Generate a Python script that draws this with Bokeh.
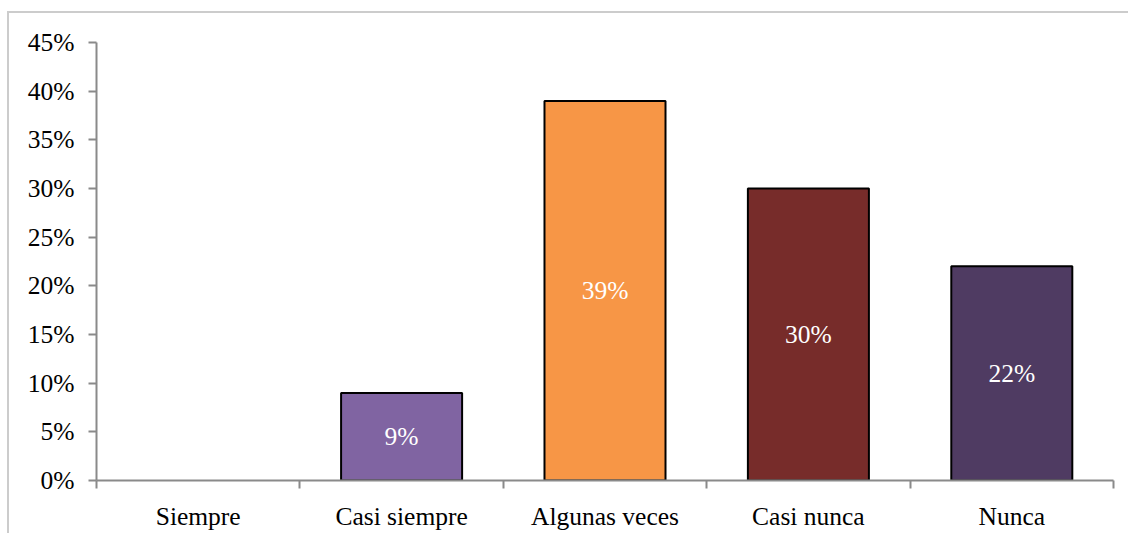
from bokeh.plotting import figure
from bokeh.models import ColumnDataSource, FixedTicker, Range1d
from bokeh.core.properties import value
from bokeh.embed import file_html
from bokeh.resources import INLINE

categories = ["Siempre", "Casi siempre", "Algunas veces", "Casi nunca", "Nunca"]
values = [0, 9, 39, 30, 22]
colors = ["#8064A2", "#8064A2", "#F79646", "#772C2A", "#4F3B62"]
labels = ["0%", "9%", "39%", "30%", "22%"]
y_ticks = [0, 5, 10, 15, 20, 25, 30, 35, 40, 45]

FONT = "Liberation Serif"
FS = "25.5px"

xs = [i + 0.5 for i in range(len(categories))]
keep = [i for i, v in enumerate(values) if v > 0]
src = ColumnDataSource(dict(
    x=[xs[i] for i in keep], top=[values[i] for i in keep],
    color=[colors[i] for i in keep], label=[labels[i] for i in keep],
    mid=[values[i] / 2 for i in keep],
))

p = figure(width=1121, height=522, output_backend="svg", toolbar_location=None,
           x_range=Range1d(0, len(categories)), y_range=Range1d(0, 45),
           min_border_left=87, min_border_right=17, min_border_top=29,
           min_border_bottom=55)
p.styles = {"border-left": "2px solid #cccccc", "border-top": "2px solid #cccccc",
            "margin-top": "11px", "margin-left": "7px"}
p.outline_line_color = None
p.xgrid.visible = False
p.ygrid.visible = False

p.vbar(x="x", top="top", bottom=0, width=0.595, source=src, fill_color="color",
       line_color="black", line_width=2)

p.text(x="x", y="mid", text="label", source=src, text_color="white",
       text_font=value(FONT), text_font_size=FS,
       text_align="center", text_baseline="middle")

# y axis
ya = p.yaxis[0]
ya.ticker = FixedTicker(ticks=y_ticks)
ya.major_label_overrides = {t: f"{t}%" for t in y_ticks}
ya.major_label_text_font = FONT
ya.major_label_text_font_size = FS
ya.major_label_text_color = "black"
ya.axis_line_color = "#8a8a8a"
ya.axis_line_width = 2
ya.major_tick_line_color = "#8a8a8a"
ya.major_tick_line_width = 2
ya.major_tick_out = 8
ya.major_tick_in = 0
ya.minor_tick_line_color = None
ya.major_label_standoff = 14

# x axis
xa = p.xaxis[0]
xa.ticker = FixedTicker(ticks=xs, minor_ticks=list(range(len(categories) + 1)))
xa.major_label_overrides = {x: c for x, c in zip(xs, categories)}
xa.major_label_text_font = FONT
xa.major_label_text_font_size = FS
xa.major_label_text_color = "black"
xa.axis_line_color = "#8a8a8a"
xa.axis_line_width = 2
xa.major_tick_line_color = None
xa.major_tick_out = 0
xa.major_tick_in = 0
xa.minor_tick_line_color = "#8a8a8a"
xa.minor_tick_line_width = 2
xa.minor_tick_out = 8
xa.minor_tick_in = 0
xa.major_label_standoff = 13

open("out.html", "w").write(file_html(p, INLINE))
